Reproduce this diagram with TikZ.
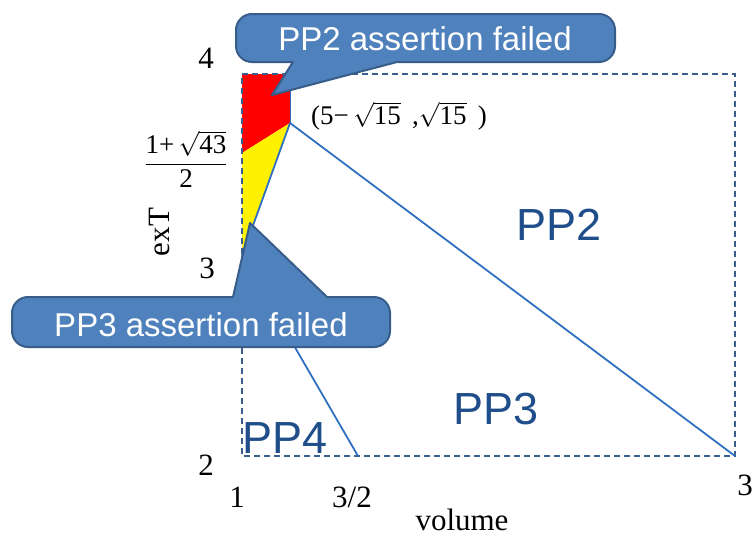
\documentclass[tikz,border=0pt]{standalone}
\usepackage{fontspec}
\setmainfont{Liberation Serif}
\newfontfamily\sansf{Liberation Sans}
\definecolor{rectcol}{HTML}{3A5F8F}
\definecolor{linecol}{HTML}{3070C0}
\definecolor{calfill}{HTML}{4F81BD}
\definecolor{caledge}{HTML}{385D8A}
\definecolor{ppcol}{HTML}{1F4E8A}
\newcommand{\rt}[1]{$\sqrt{\hbox{#1}}$}
\tikzset{
  frame/.style={draw=rectcol, line width=1.4pt, dash pattern=on 6pt off 4pt},
  bound/.style={draw=linecol, line width=1.8pt},
  callout/.style={fill=calfill, draw=caledge, line width=2pt, line join=round},
  calltext/.style={text=white, font=\sansf\fontsize{33}{38}\selectfont, inner sep=0pt},
  pplabel/.style={text=ppcol, font=\sansf\fontsize{45}{50}\selectfont, inner sep=0pt},
  axlabel/.style={font=\fontsize{31}{36}\selectfont, inner sep=0pt},
  mathlabel/.style={font=\fontsize{27}{32}\selectfont, inner sep=0pt}
}
\begin{document}
\begin{tikzpicture}[x=1pt,y=-1pt]
\useasboundingbox (0,0) rectangle (755,538);
% key points
\coordinate (tl) at (242,74);
\coordinate (tr) at (735,74);
\coordinate (br) at (735,456);
\coordinate (bl) at (242,456);
\coordinate (redtr) at (290,74);
\coordinate (vx) at (290,123);
\coordinate (ry) at (242,153);
\coordinate (low) at (242,256);
\coordinate (half) at (358,456);
% regions
\fill[red] (tl) -- (redtr) -- (vx) -- (ry) -- cycle;
\fill[yellow] (ry) -- (vx) -- (low) -- cycle;
% frame
\draw[frame] (tl) -- (tr) -- (br) -- (bl) -- cycle;
% boundaries
\draw[draw=linecol, line width=0.6pt] (redtr) -- (vx);
\draw[bound] (vx) -- (low);
\draw[bound] (low) -- (half);
\draw[bound] (vx) -- (br);
% callout PP2
\draw[callout] (293,62) -- (272,95) -- (397,62) [rounded corners=16pt] -- (615,62) -- (615,14) -- (236,14) -- (236,62) [sharp corners] -- (293,62) -- cycle;
\node[calltext] (c2) at (425,39) {PP2 assertion failed};
% callout PP3
\draw[callout] (327,297) -- (250,223) -- (233,297) [rounded corners=16pt] -- (12,297) -- (12,347) -- (390,347) -- (390,297) [sharp corners] -- (327,297) -- cycle;
\node[calltext] (c3) at (201,325) {PP3 assertion failed};
% region labels
\node[pplabel] (pp2) at (559,225) {PP2};
\node[pplabel] (pp3) at (496,409) {PP3};
\node[pplabel] (pp4) at (285,438) {PP4};
% axis labels
\node[axlabel] (y4) at (206,58) {4};
\node[axlabel] (y3) at (207,268) {3};
\node[axlabel] (y2) at (206,465) {2};
\node[axlabel] (x1) at (237,497) {1};
\node[axlabel] (x32) at (352,497) {3/2};
\node[axlabel] (x3) at (745,485) {3};
\node[axlabel] (xl) at (462,520) {volume};
\node[axlabel, rotate=90] (yl) at (160,232) {exT};
\node[mathlabel, align=center] (frac) at (186,159) {$\displaystyle\frac{\hbox{1+\,}\sqrt{\hbox{43}}}{\hbox{2}}$};
\node[mathlabel] (pt) at (399,116) {(5−\,\rt{15}\ \,,\rt{15}\ \,)};
\end{tikzpicture}
\end{document}
